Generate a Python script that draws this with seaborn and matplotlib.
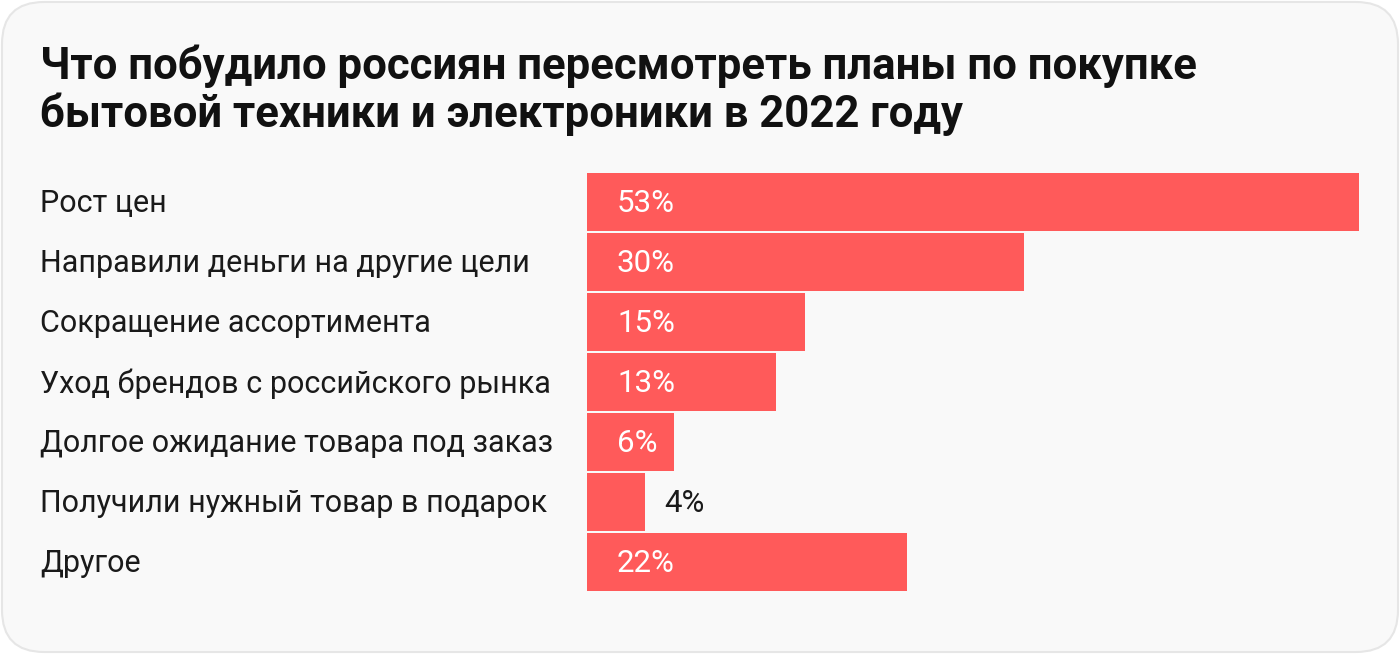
import matplotlib
matplotlib.use('Agg')
import matplotlib.pyplot as plt
import matplotlib.transforms as mtransforms
from matplotlib.patches import FancyBboxPatch
import seaborn as sns
import pandas as pd

# data
categories = [
    'Рост цен',
    'Направили деньги на другие цели',
    'Сокращение ассортимента',
    'Уход брендов с российского рынка',
    'Долгое ожидание товара под заказ',
    'Получили нужный товар в подарок',
    'Другое',
]
values = [53, 30, 15, 13, 6, 4, 22]
title = 'Что побудило россиян пересмотреть планы по покупке\nбытовой техники и электроники в 2022 году'

df = pd.DataFrame({'category': categories, 'value': values})

sns.set_theme(style='white')
plt.rcParams['font.family'] = ['Roboto', 'DejaVu Sans']

W, H = 1400, 654
fig = plt.figure(figsize=(W / 100, H / 100), dpi=100)
fig.patch.set_facecolor('white')

# rounded card background (behind the axes)
card = FancyBboxPatch((2 / W, 2 / H), (W - 4) / W, (H - 4) / H,
                      boxstyle='round,pad=0,rounding_size=0.03',
                      transform=fig.transFigure, facecolor='#f9f9f9',
                      edgecolor='#e6e6e6', linewidth=1.5, mutation_aspect=W / H,
                      zorder=-10)
fig.patches.append(card)

ax = fig.add_axes([587 / W, 1 - 592 / H, (1359 - 587) / W, (592 - 172) / H])
ax.set_facecolor('none')
ax.set_zorder(1)

bar_color = '#ff5a5a'
sns.barplot(data=df, x='value', y='category', orient='h', color=bar_color,
            saturation=1, width=0.967, ax=ax)

ax.set_xlim(0, 53)
ax.set_ylim(6.5, -0.5)
ax.set_xlabel('')
ax.set_ylabel('')
ax.set_xticks([])
ax.set_yticks([])
for s in ax.spines.values():
    s.set_visible(False)
for p in ax.patches:
    p.set_edgecolor('none')

# category labels, left aligned
trans = mtransforms.blended_transform_factory(fig.transFigure, ax.transData)
for i, cat in enumerate(categories):
    ax.text(40 / W, i + 0.03, cat, transform=trans, ha='left', va='center',
            fontsize=22, color='#1a1a1a', clip_on=False)

# value labels
for i, v in enumerate(values):
    if v >= 6:
        ax.annotate(f'{v}%', (0, i + 0.03), xytext=(21.6, 0), textcoords='offset points',
                    ha='left', va='center', fontsize=22.5, color='white')
    else:
        ax.annotate(f'{v}%', (v, i + 0.03), xytext=(13.7, 0), textcoords='offset points',
                    ha='left', va='center', fontsize=22.5, color='#1a1a1a')

fig.text(40 / W, 1 - 45 / H, title, ha='left', va='top', fontsize=31.5,
         fontweight='bold', color='#111111', linespacing=1.13)

fig.savefig('out.png', dpi=100, facecolor=fig.get_facecolor())
